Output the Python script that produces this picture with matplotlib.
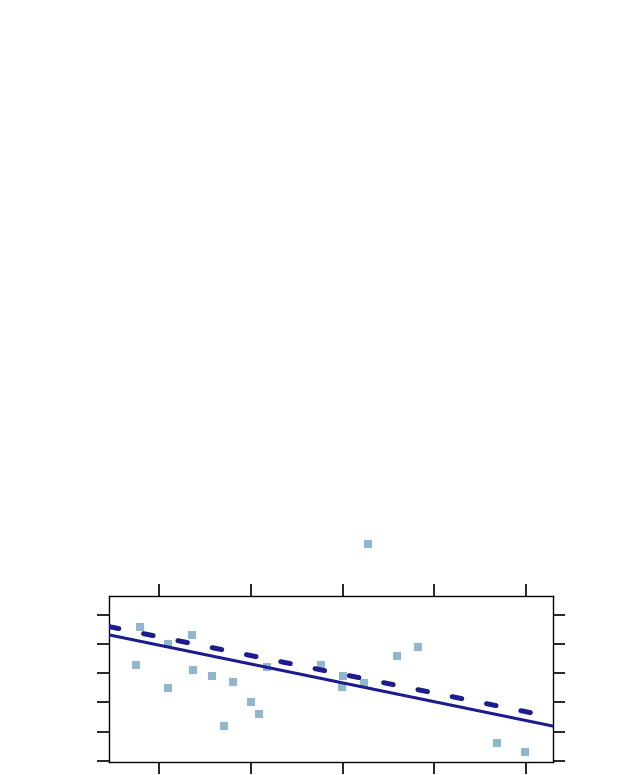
import numpy as np
import matplotlib
matplotlib.use("Agg")
import matplotlib.pyplot as plt

# scatter values (no axis labels in the source)
x_vals = [0.79, 0.75, 1.10, 1.10, 1.36, 1.37, 1.58, 1.71, 1.81, 2.00, 2.09,
          2.18, 2.76, 3.00, 2.99, 3.23, 3.28, 3.59, 3.82, 4.68, 4.99]
y_vals = [4.60, 3.28, 4.01, 2.51, 4.30, 3.10, 2.90, 1.19, 2.71, 2.00, 1.59,
          3.21, 3.28, 2.91, 2.52, 2.66, 7.43, 3.60, 3.91, 0.60, 0.31]

# two fitted lines: (intercept, slope)
fit_solid = (4.611, -0.647)
fit_dashed = (4.893, -0.643)

x_ticks = [1, 2, 3, 4, 5]
y_ticks = [0, 1, 2, 3, 4, 5]
x_lim = (0.459, 5.289)
y_lim = (-0.055, 5.64)

POINT_COL = "#91b7ce"
LINE_COL = "#1c1c8e"


def main():
    fig = plt.figure(figsize=(6.34, 7.75), dpi=100)
    ax = fig.add_axes([0.1724, 0.0164, 0.6994, 0.2142])

    ax.scatter(x_vals, y_vals, marker="s", s=34, color=POINT_COL,
               linewidths=0, clip_on=False, zorder=2)

    xs = np.array(x_lim)
    b0, b1 = fit_solid
    ax.plot(xs, b0 + b1 * xs, color=LINE_COL, lw=2.2, zorder=3)
    b0, b1 = fit_dashed
    ax.plot(xs, b0 + b1 * xs, color=LINE_COL, lw=3.6, zorder=3,
            dashes=(1.95, 5.05), dash_capstyle="round")

    ax.set_xlim(*x_lim)
    ax.set_ylim(*y_lim)
    ax.set_xticks(x_ticks)
    ax.set_yticks(y_ticks)
    ax.tick_params(direction="out", length=8.6, width=1.2,
                   top=True, right=True,
                   labelbottom=False, labelleft=False,
                   labeltop=False, labelright=False)
    for sp in ax.spines.values():
        sp.set_linewidth(1.0)

    fig.savefig("out.png", dpi=100)
    plt.close(fig)


if __name__ == "__main__":
    main()
